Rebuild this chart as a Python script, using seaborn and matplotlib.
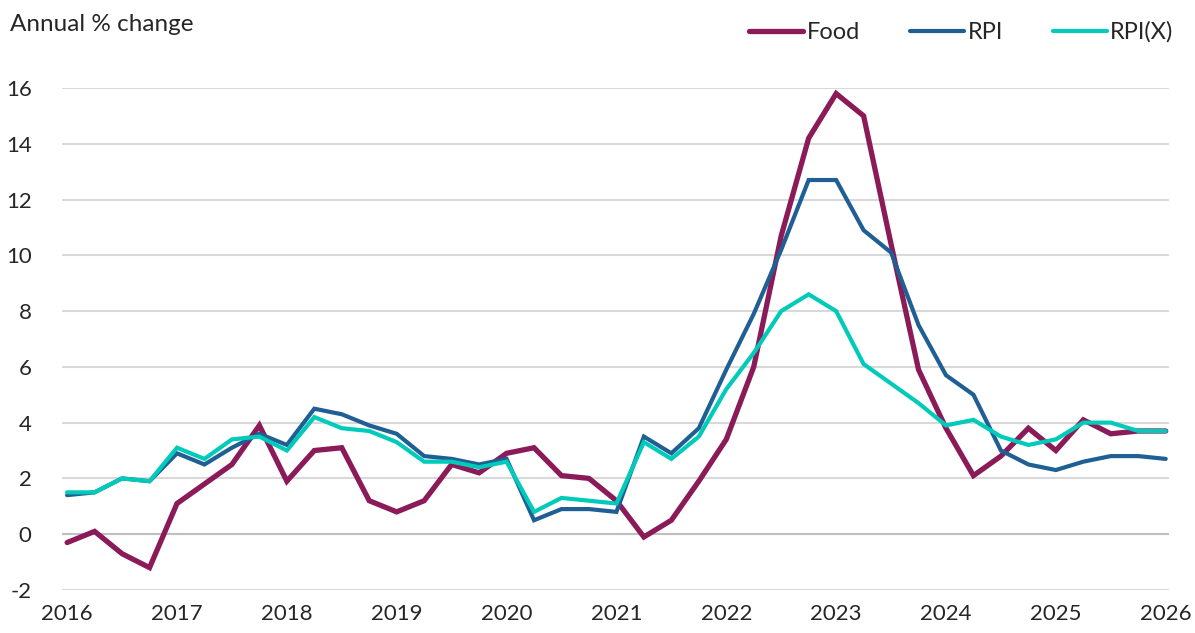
### Food vs RPI inflation ###
import matplotlib
matplotlib.use("Agg")
import matplotlib.pyplot as plt
import seaborn as sns
import numpy as np
import pandas as pd

# quarterly, 2016 Q1 .. 2026 Q1
food = [-0.3, 0.1, -0.7, -1.2,
        1.1, 1.8, 2.5, 3.9,
        1.9, 3.0, 3.1, 1.2,
        0.8, 1.2, 2.5, 2.2,
        2.9, 3.1, 2.1, 2.0,
        1.2, -0.1, 0.5, 1.9,
        3.4, 6.0, 10.7, 14.2,
        15.8, 15.0, 10.4, 5.9,
        3.8, 2.1, 2.8, 3.8,
        3.0, 4.1, 3.6, 3.7,
        3.7]
rpi = [1.4, 1.5, 2.0, 1.9,
       2.9, 2.5, 3.1, 3.6,
       3.2, 4.5, 4.3, 3.9,
       3.6, 2.8, 2.7, 2.5,
       2.7, 0.5, 0.9, 0.9,
       0.8, 3.5, 2.9, 3.8,
       5.9, 7.9, 10.2, 12.7,
       12.7, 10.9, 10.1, 7.5,
       5.7, 5.0, 3.0, 2.5,
       2.3, 2.6, 2.8, 2.8,
       2.7]
rpix = [1.5, 1.5, 2.0, 1.9,
        3.1, 2.7, 3.4, 3.5,
        3.0, 4.2, 3.8, 3.7,
        3.3, 2.6, 2.6, 2.4,
        2.6, 0.8, 1.3, 1.2,
        1.1, 3.3, 2.7, 3.5,
        5.2, 6.5, 8.0, 8.6,
        8.0, 6.1, 5.4, 4.7,
        3.9, 4.1, 3.5, 3.2,
        3.4, 4.0, 4.0, 3.7,
        3.7]
years = list(range(2016, 2027))
yticks = [-2, 0, 2, 4, 6, 8, 10, 12, 14, 16]

quarter = 2016 + np.arange(len(food)) * 0.25
df = pd.DataFrame({"date": quarter, "Food": food, "RPI": rpi, "RPI(X)": rpix})

sns.set_style("white")
plt.rcParams["font.family"] = ["Lato", "DejaVu Sans"]
plt.rcParams["axes.unicode_minus"] = False
text_col = "#262626"

fig = plt.figure(figsize=(11.95, 6.33), dpi=100)
ax = fig.add_axes([0.052, 0.068, 0.926, 0.793])

styles = {"Food": ("#8A1A58", 3.8), "RPI": ("#1F5F94", 3.0), "RPI(X)": ("#00CBBA", 3.0)}
for name, (col, lw) in styles.items():
    sns.lineplot(data=df, x="date", y=name, ax=ax, color=col, linewidth=lw,
                 label=name, solid_capstyle="round", solid_joinstyle="miter")

ax.set_xlim(2016 - 5 / 110, 2026 + 3 / 110)
ax.set_ylim(-2, 16)
ax.set_xticks(years)
ax.set_xticklabels([str(y) for y in years])
ax.set_yticks(yticks)
ax.grid(axis="y", color="#D9D9D9", linewidth=1.5, zorder=0)
ax.axhline(0, color="#BFBFBF", linewidth=1.5, zorder=1)
ax.set_axisbelow(True)
for s in ax.spines.values():
    s.set_visible(False)
ax.tick_params(axis="both", length=0, labelsize=16, colors=text_col)
ax.tick_params(axis="y", pad=22)
ax.tick_params(axis="x", pad=10)
ax.set_xlabel("")
ax.set_ylabel("")

fig.text(0.008, 0.962, "Annual % change", fontsize=17.5, color=text_col,
         ha="left", va="center")

ax.legend(loc="center right", bbox_to_anchor=(1.0, 0.949), bbox_transform=fig.transFigure,
          ncol=3, frameon=False, fontsize=17, handlelength=2.3, handletextpad=0.15,
          columnspacing=2.1, labelcolor=text_col)

fig.savefig("out.png", dpi=100)
